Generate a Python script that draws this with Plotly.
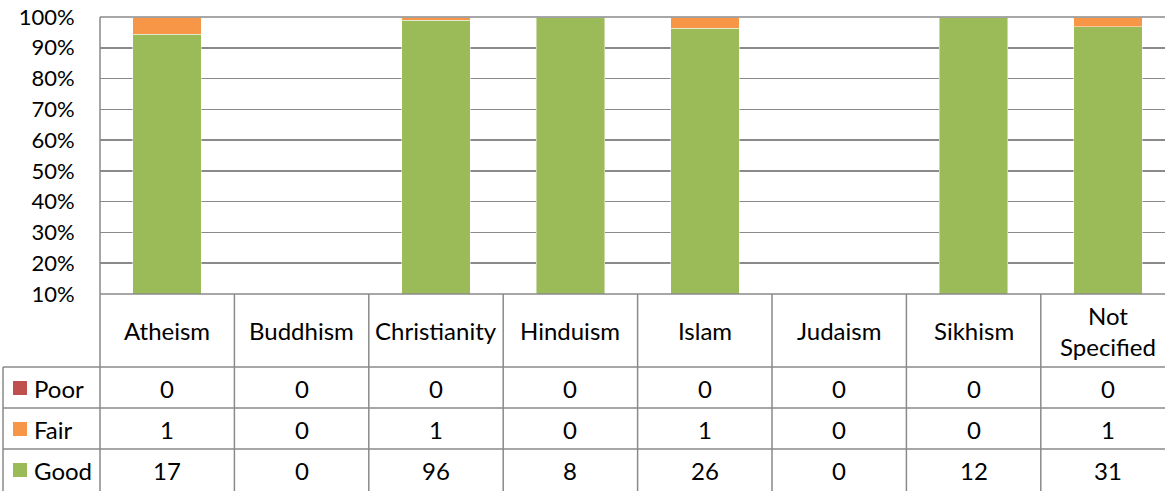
import plotly.graph_objects as go

categories = ["Atheism", "Buddhism", "Christianity", "Hinduism", "Islam", "Judaism", "Sikhism", "Not<br>Specified"]
poor = [0, 0, 0, 0, 0, 0, 0, 0]
fair = [1, 0, 1, 0, 1, 0, 0, 1]
good = [17, 0, 96, 8, 26, 0, 12, 31]
series_names = ["Poor", "Fair", "Good"]
colors = {"Poor": "#C0504D", "Fair": "#F79646", "Good": "#9BBB59"}

W, H = 1165, 491
FONT = "Lato"
FS = 24
TFS = 22
GRID = "#8a8a8a"

def py(px):
    return (H - px) / H

def pxx(px):
    return px / W

x_idx = list(range(len(categories)))
fig = go.Figure()
for name, vals in [("Good", good), ("Fair", fair), ("Poor", poor)]:
    fig.add_trace(go.Bar(x=x_idx, y=vals, name=name, width=0.51, hoverinfo="skip",
                         marker=dict(color=colors[name], line=dict(color="rgba(255,255,255,0.45)", width=1))))

fig.update_layout(
    width=W, height=H, barmode="stack", barnorm="fraction", hovermode=False,
    margin=dict(l=0, r=0, t=0, b=0, autoexpand=False), paper_bgcolor="white", plot_bgcolor="white",
    showlegend=False, font=dict(family=FONT, size=FS, color="black"),
    xaxis=dict(domain=[pxx(100), 1], range=[-0.5, 7.424], showticklabels=False, showgrid=False,
               zeroline=False, showline=False, automargin=False),
    yaxis=dict(domain=[py(294), py(17)], range=[0.1, 1.0], dtick=0.1, tick0=0, tickformat=".0%",
               showgrid=True, gridcolor=GRID, gridwidth=1.5, zeroline=False, showline=False,
               ticks="outside", ticklen=0, ticklabelstandoff=20, automargin=False,
               ticklabeloverflow="allow",
               tickfont=dict(family=FONT, size=TFS)),
)

shapes = []
line = dict(color=GRID, width=1.5)
shapes.append(dict(type="line", xref="paper", yref="paper", x0=pxx(100), x1=1, y0=py(17), y1=py(17), line=line))
shapes.append(dict(type="line", xref="paper", yref="paper", x0=pxx(100), x1=1, y0=py(294), y1=py(294), line=line))
shapes.append(dict(type="line", xref="paper", yref="paper", x0=pxx(100), x1=pxx(100), y0=py(17), y1=0, line=line))
row_tops = [367, 408, 449]
for yy in row_tops:
    shapes.append(dict(type="line", xref="paper", yref="paper", x0=pxx(3), x1=1, y0=py(yy), y1=py(yy), line=line))
shapes.append(dict(type="line", xref="paper", yref="paper", x0=pxx(3), x1=pxx(3), y0=py(367), y1=0, line=line))
for i in range(len(categories)):
    shapes.append(dict(type="line", xref="x", yref="paper", x0=i + 0.5, x1=i + 0.5, y0=py(294), y1=0, line=line))

annotations = []
for i, c in enumerate(categories):
    annotations.append(dict(x=i, y=py(331), xref="x", yref="paper", text=c, showarrow=False,
                            yanchor="middle", font=dict(family=FONT, size=FS), align="center"))
row_centers = [388, 429, 470]
for name, vals, yc in zip(series_names, [poor, fair, good], row_centers):
    shapes.append(dict(type="rect", xref="paper", yref="paper", x0=pxx(13), x1=pxx(27),
                       y0=py(yc + 7), y1=py(yc - 7), fillcolor=colors[name], line=dict(width=0)))
    annotations.append(dict(x=pxx(32), y=py(yc), xref="paper", yref="paper", text=name, showarrow=False,
                            xanchor="left", yanchor="middle", font=dict(family=FONT, size=FS)))
    for i, v in enumerate(vals):
        annotations.append(dict(x=i, y=py(yc), xref="x", yref="paper", text=str(v), showarrow=False,
                                yanchor="middle", font=dict(family=FONT, size=FS)))

fig.update_layout(shapes=shapes, annotations=annotations)
fig.write_html("out.html", config={"displayModeBar": False, "staticPlot": True},
               post_script="document.body.style.margin='0px';")
